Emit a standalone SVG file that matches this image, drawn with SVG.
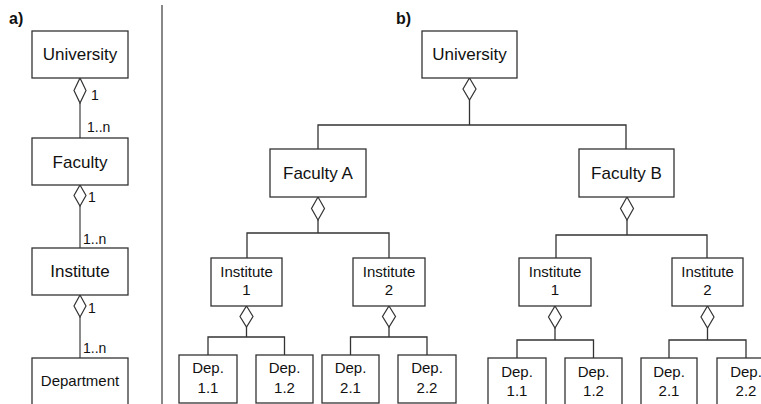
<svg xmlns="http://www.w3.org/2000/svg" width="761" height="404" viewBox="0 0 761 404">
<style>
.box{fill:#fff;stroke:#333;stroke-width:1.3}
.ln{fill:none;stroke:#333;stroke-width:1.3}
.lg{fill:none;stroke:#666;stroke-width:1.5}
.dm{fill:#fff;stroke:#333;stroke-width:1.2}
text{font-family:"Liberation Sans",Arial,sans-serif;fill:#111}
.t17{font-size:17px;text-anchor:middle}
.t15{font-size:15px;text-anchor:middle}
.lab{font-size:14px}
.hd{font-size:16px;font-weight:bold}
</style>
<rect width="761" height="404" fill="#fff"/>
<text class="hd" x="9" y="24">a)</text>
<text class="hd" x="396" y="24">b)</text>
<line x1="162" y1="5" x2="162" y2="404" stroke="#888" stroke-width="2"/>

<g id="connectors">
  <path class="lg" d="M80,103V138M80,206V248M80,317V358"/>
  <polygon class="dm" points="80,78 86,90.5 80,103 74,90.5"/>
  <polygon class="dm" points="80,185 86,195.5 80,206 74,195.5"/>
  <polygon class="dm" points="80,295 86,306 80,317 74,306"/>
  <path class="ln" d="M469.5,100V125M318,149V125H626V149"/>
  <polygon class="dm" points="469.5,78 476,89 469.5,100 463,89"/>
  <path class="ln" d="M318,220V233M247,258V233H389V258"/>
  <polygon class="dm" points="318,197 324.5,208.5 318,220 311.5,208.5"/>
  <path class="ln" d="M627,220V235M556,258V235H707V258"/>
  <polygon class="dm" points="627,197 633.5,208.5 627,220 620.5,208.5"/>
  <path class="ln" d="M246.5,327V337M208,355V337H284.5V355"/>
  <polygon class="dm" points="246.5,306 253,316.5 246.5,327 240,316.5"/>
  <path class="ln" d="M389,327V337M350.5,355V337H427V355"/>
  <polygon class="dm" points="389,306 395.5,316.5 389,327 382.5,316.5"/>
  <path class="ln" d="M555,328V340M517,358V340H593.5V358"/>
  <polygon class="dm" points="555,306 561.5,317 555,328 548.5,317"/>
  <path class="ln" d="M707.5,328V340M669,358V340H746V358"/>
  <polygon class="dm" points="707.5,306 714,317 707.5,328 701,317"/>
  <g class="lab">
    <text x="91" y="100">1</text>
    <text x="87" y="132">1..n</text>
    <text x="88" y="202">1</text>
    <text x="83" y="244">1..n</text>
    <text x="88" y="313">1</text>
    <text x="83" y="353">1..n</text>
  </g>
</g>

<g id="a-university"><rect class="box" x="32" y="31" width="96" height="47"/><text class="t17" x="80" y="60">University</text></g>
<g id="a-faculty"><rect class="box" x="32" y="138" width="96" height="47"/><text class="t17" x="80" y="168">Faculty</text></g>
<g id="a-institute"><rect class="box" x="32" y="248" width="96" height="47"/><text class="t17" x="80" y="277">Institute</text></g>
<g id="a-department"><rect class="box" x="32" y="358" width="96" height="60"/><text class="t15" x="80" y="386">Department</text></g>

<g id="b-university"><rect class="box" x="422" y="31" width="95" height="47"/><text class="t17" x="469.5" y="60">University</text></g>
<g id="b-facultyA"><rect class="box" x="270" y="149" width="96" height="48"/><text class="t17" x="318" y="179">Faculty A</text></g>
<g id="b-facultyB"><rect class="box" x="579" y="149" width="95" height="48"/><text class="t17" x="626.5" y="179">Faculty B</text></g>

<g id="b-instA1"><rect class="box" x="211" y="258" width="71" height="48"/><text class="t15" x="246.5" y="277">Institute</text><text class="t15" x="246.5" y="295">1</text></g>
<g id="b-instA2"><rect class="box" x="353" y="258" width="72" height="48"/><text class="t15" x="389" y="277">Institute</text><text class="t15" x="389" y="295">2</text></g>
<g id="b-instB1"><rect class="box" x="519" y="258" width="72" height="48"/><text class="t15" x="555" y="277">Institute</text><text class="t15" x="555" y="295">1</text></g>
<g id="b-instB2"><rect class="box" x="672" y="258" width="71" height="48"/><text class="t15" x="707.5" y="277">Institute</text><text class="t15" x="707.5" y="295">2</text></g>

<g id="b-depA11"><rect class="box" x="179" y="355" width="58" height="48"/><text class="t15" x="208" y="373">Dep.</text><text class="t15" x="208" y="393">1.1</text></g>
<g id="b-depA12"><rect class="box" x="256" y="355" width="57" height="48"/><text class="t15" x="284.5" y="373">Dep.</text><text class="t15" x="284.5" y="393">1.2</text></g>
<g id="b-depA21"><rect class="box" x="322" y="355" width="57" height="48"/><text class="t15" x="350.5" y="373">Dep.</text><text class="t15" x="350.5" y="393">2.1</text></g>
<g id="b-depA22"><rect class="box" x="398" y="355" width="58" height="48"/><text class="t15" x="427" y="373">Dep.</text><text class="t15" x="427" y="393">2.2</text></g>

<g id="b-depB11"><rect class="box" x="488" y="358" width="58" height="50"/><text class="t15" x="517" y="377">Dep.</text><text class="t15" x="517" y="396">1.1</text></g>
<g id="b-depB12"><rect class="box" x="565" y="358" width="57" height="50"/><text class="t15" x="593.5" y="377">Dep.</text><text class="t15" x="593.5" y="396">1.2</text></g>
<g id="b-depB21"><rect class="box" x="641" y="358" width="56" height="50"/><text class="t15" x="669" y="377">Dep.</text><text class="t15" x="669" y="396">2.1</text></g>
<g id="b-depB22"><rect class="box" x="717" y="358" width="58" height="50"/><text class="t15" x="746" y="377">Dep.</text><text class="t15" x="746" y="396">2.2</text></g>
</svg>
